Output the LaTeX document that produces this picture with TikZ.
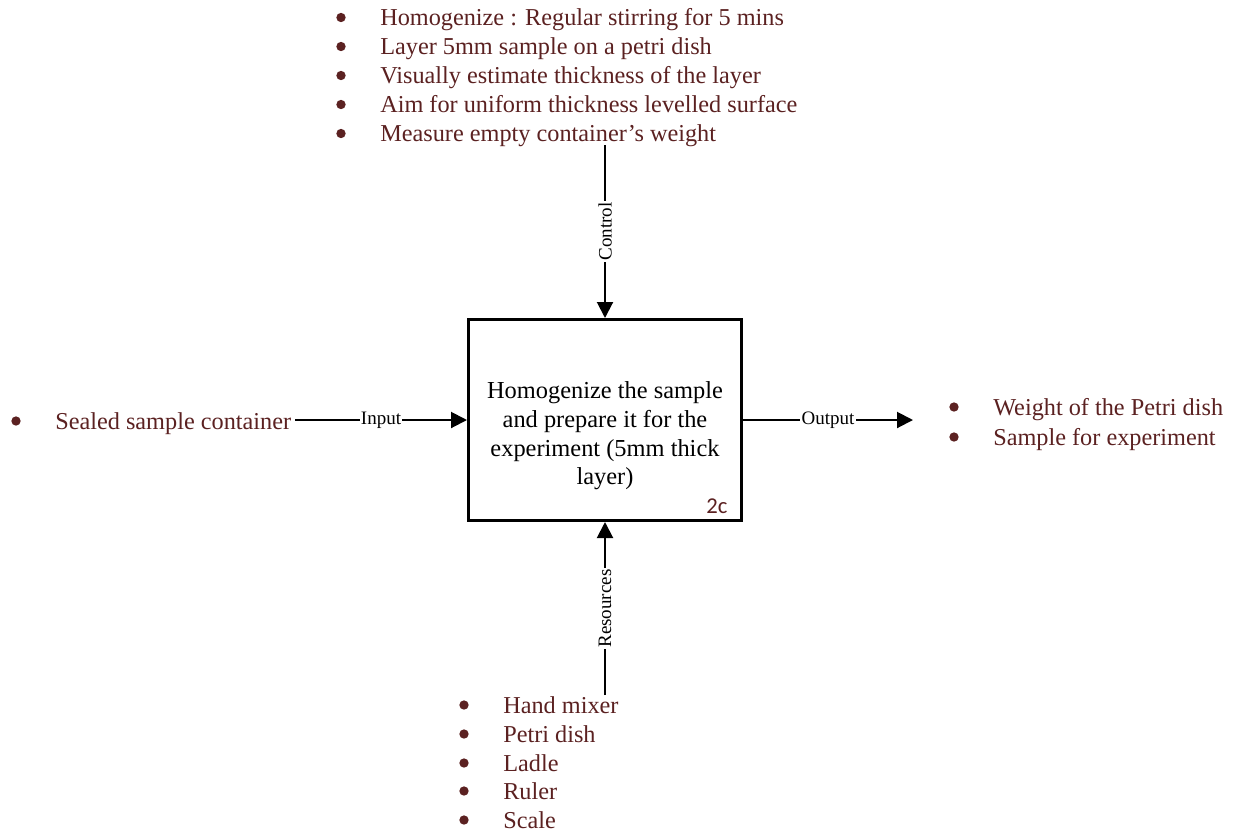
\documentclass[tikz,border=0pt]{standalone}
\usepackage{fontspec}
\setmainfont{Liberation Serif}
\newfontfamily\tagfont{Carlito}
\usetikzlibrary{arrows.meta}
\definecolor{itemtext}{RGB}{91,33,33}
\begin{document}
\begin{tikzpicture}[x=0.75pt,y=-0.75pt,
  listitem/.style={anchor=base west, inner sep=0pt, text=itemtext,
    font=\fontsize{18.2}{21.5}\selectfont},
  listbullet/.style={fill=itemtext},
  flow/.style={line width=1.5pt, -{Triangle[length=12pt,width=12pt]}},
  flowlabel/.style={fill=white, inner sep=1pt, font=\fontsize{14.25}{16}\selectfont},
  procbox/.style={draw, line width=2.25pt, minimum width=204.75pt,
    minimum height=150.75pt, inner sep=0pt}]
\useasboundingbox (0,0) rectangle (1235,833);

% activity box
\node[procbox] (proc) at (605,420) {};
\node[align=center, inner sep=0pt, font=\fontsize{18.3}{21.5}\selectfont] (proctext) at (605,436)
  {Homogenize the sample\\and prepare it for the\\experiment (5mm thick\\layer)};
\node[inner sep=0pt, text=itemtext, font=\tagfont\fontsize{17}{19}\selectfont] (tag) at (717,506) {2c};

% controls
\node[listitem] (ctl1) at (380,25.5)  {Homogenize : Regular stirring for 5 mins};
\node[listitem] (ctl2) at (380,54.5)  {Layer 5mm sample on a petri dish};
\node[listitem] (ctl3) at (380,83.5)  {Visually estimate thickness of the layer};
\node[listitem] (ctl4) at (380,112.5) {Aim for uniform thickness levelled surface};
\node[listitem] (ctl5) at (380,141.5) {Measure empty container’s weight};

% input
\node[listitem] (in1) at (55,429) {Sealed sample container};

% outputs
\node[listitem] (out1) at (993,415) {Weight of the Petri dish};
\node[listitem] (out2) at (993,445) {Sample for experiment};

% resources
\node[listitem] (res1) at (503,713) {Hand mixer};
\node[listitem] (res2) at (503,742) {Petri dish};
\node[listitem] (res3) at (503,771) {Ladle};
\node[listitem] (res4) at (503,799) {Ruler};
\node[listitem] (res5) at (503,828) {Scale};

% list bullets, hanging left of each entry
\foreach \entry in {ctl1,ctl2,ctl3,ctl4,ctl5,in1,out1,out2,res1,res2,res3,res4,res5}
  \fill[listbullet] ([shift={(-39,-8)}]\entry.base west) circle[radius=3.5pt];

% free ends of the connectors
\coordinate (ctlstart) at (605,145);
\coordinate (instart) at (295,420);
\coordinate (outend) at (913,420);
\coordinate (resstart) at (605,695);

\draw[flow] (ctlstart) -- node[flowlabel, rotate=90] (ctllabel) {Control} (proc.north);
\draw[flow] (instart) -- node[flowlabel] (inlabel) {Input} (proc.west);
\draw[flow] (proc.east) -- node[flowlabel] (outlabel) {Output} (outend);
\draw[flow] (resstart) -- node[flowlabel, rotate=90] (reslabel) {Resources} (proc.south);
\end{tikzpicture}
\end{document}
